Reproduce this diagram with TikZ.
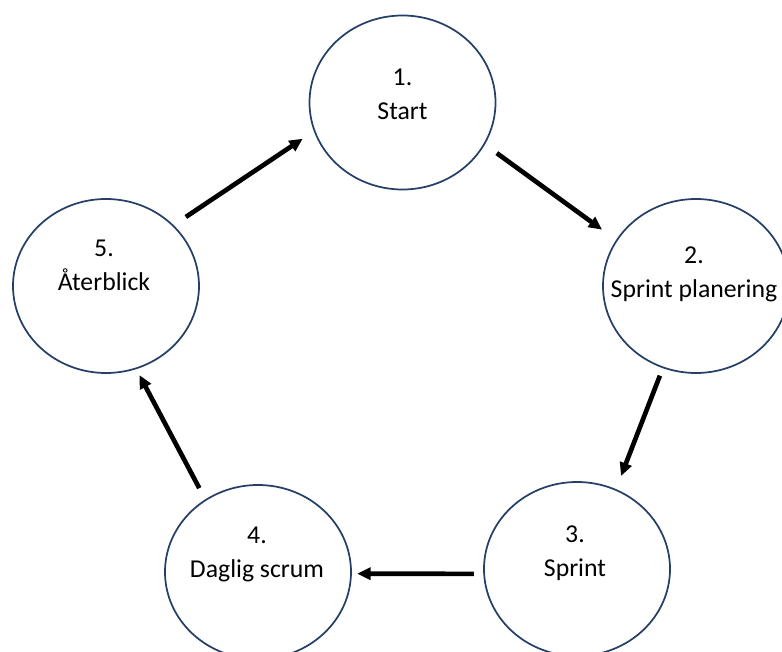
\documentclass[tikz,border=0pt]{standalone}
\usepackage{fontspec}
\setmainfont{Carlito}
\usetikzlibrary{shapes.geometric,arrows.meta}
\definecolor{ringblue}{HTML}{253F66}

\begin{document}
\begin{tikzpicture}[x=0.75pt,y=-0.75pt,
	stage/.style={ellipse,draw=ringblue,line width=1.3pt,minimum width=139.5pt,minimum height=130.5pt,inner sep=0pt},
	lbl/.style={align=center,font=\fontsize{19.3}{25.5}\selectfont},
	arr/.style={-{Triangle[length=10pt,width=9pt]},line width=3.5pt}]
	\clip (0,0) rectangle (782,652); %page frame

	%STAGES
	\foreach \n/\cx/\cy/\tx/\ty/\txt in {%
		1/402.5/102.5/402.5/94/{1.\\Start},
		2/696/286/694/274/{2.\\Sprint planering},
		3/577/569/575/553/{3.\\Sprint},
		4/258/572/257/554/{4.\\Daglig scrum},
		5/106/286/104/265/{5.\\Återblick}}{
		\node[stage] (s\n) at (\cx,\cy) {};
		\node[lbl] (t\n) at (\tx,\ty) {\txt};
	}

	%CYCLE
	\foreach \a/\b/\p/\q/\m/\k in {s5/s1/42/198/11/10, s1/s2/-27/150/11/13,
		s2/s3/248/64/6/10.5, s3/s4/183/-1/7/4, s4/s5/126/-70/9.5/5}
		\draw[arr,shorten <=\m pt,shorten >=\k pt] (\a.\p) -- (\b.\q);
\end{tikzpicture}
\end{document}
